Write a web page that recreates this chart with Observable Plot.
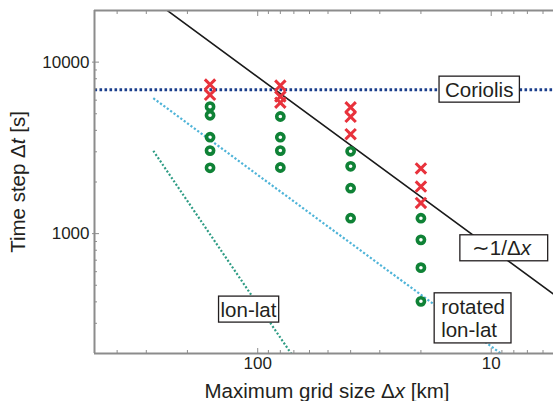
<!DOCTYPE html>
<html><head><meta charset="utf-8">
<script src="https://cdn.jsdelivr.net/npm/d3@7"></script>
<script src="https://cdn.jsdelivr.net/npm/@observablehq/plot@0.6"></script>
<style>html,body{margin:0;padding:0;background:#fff;overflow:hidden}svg{display:block}</style>
</head><body><div id="chart"></div>
<script>
// ---- data (Δx in km, Δt in s) ----
const crossDx = [160, 160, 80, 80, 80, 40, 40, 40, 20, 20, 20];
const crossDt = [7400, 6450, 7300, 6300, 5800, 5450, 4800, 3800, 2400, 1880, 1510];
const circleDx = [160, 160, 160, 160, 160, 80, 80, 80, 80, 40, 40, 40, 40, 20, 20, 20, 20];
const circleDt = [5500, 4900, 3650, 3050, 2420, 4820, 3650, 3050, 2430, 3020, 2470, 1840, 1230, 1230, 920, 633, 403];
const coriolisDx = [500, 5];
const coriolisDt = [6900, 6900];
const invDx = [500, 5];          // ~1/Δx reference line
const invDt = [41000, 410];
const rotatedDx = [280, 5];      // rotated lon-lat stability limit
const rotatedDt = [6160, 110];
const lonlatDx = [280, 60];      // lon-lat stability limit
const lonlatDt = [3040, 139];
const xMajor = [100, 10];
const xMinor = [500, 400, 300, 200, 90, 80, 70, 60, 50, 40, 30, 20, 9, 8, 7, 6];
const yMajor = [10000, 1000];
const yMinor = [9000, 8000, 7000, 6000, 5000, 4000, 3000, 2000, 900, 800, 700, 600, 500, 400, 300];
const labelText = ["Coriolis", "∼1/Δx", "lon-lat", "rotated\nlon-lat"];
const labelDx = [11.2, 9, 109, 16.3];
const labelDt = [6900, 820, 360, 320];
const xTitle = "Maximum grid size Δx [km]";
const yTitle = "Time step Δt [s]";

// ---- styles / layout ----
const font = '"Liberation Sans", Arial, Helvetica, sans-serif';
const ink = "#231f20";
const gray = "#8c8c8c";
const red = "#e8323c", green = "#0f8236";
const labelAlign = ["middle", "middle", "middle", "start"];
const labelPad = [[6, 6, 1.5], [12, 16, 1.5], [2, 2, 1.5], [7, 6, 2.3]];

const pts = (xs, ys) => xs.map((x, i) => ({dx: x, dt: ys[i]}));

const chart = Plot.plot({
  width: 553, height: 401,
  marginLeft: 94, marginRight: -8, marginTop: 10, marginBottom: 48,
  style: {fontFamily: font, fontSize: "17px", color: ink, background: "#fff", overflow: "hidden"},
  x: {type: "log", domain: [500, 5], axis: null},
  y: {type: "log", domain: [200, 20000], axis: null},
  marks: [
    Plot.line(pts(lonlatDx, lonlatDt), {x: "dx", y: "dt", stroke: "#2e9c84", strokeWidth: 2.2, strokeDasharray: "2 2", strokeLinecap: "butt", clip: true}),
    Plot.line(pts(rotatedDx, rotatedDt), {x: "dx", y: "dt", stroke: "#4fb4d8", strokeWidth: 2.2, strokeDasharray: "2.2 2", strokeLinecap: "butt", clip: true}),
    Plot.line(pts(invDx, invDt), {x: "dx", y: "dt", stroke: "#1a1a1a", strokeWidth: 1.6, clip: true}),
    Plot.line(pts(coriolisDx, coriolisDt), {x: "dx", y: "dt", stroke: "#1a3e8c", strokeWidth: 3, strokeDasharray: "2.6 2.4", strokeLinecap: "butt", clip: true}),
    Plot.dot(pts(circleDx, circleDt), {x: "dx", y: "dt", r: 3.6, stroke: green, strokeWidth: 3.6, fill: "none"}),
    Plot.dot(pts(crossDx, crossDt), {x: "dx", y: "dt", symbol: "times", r: 4.8, stroke: red, strokeWidth: 3}),
    Plot.ruleX([500], {stroke: gray, strokeWidth: 2}),
    Plot.ruleY([20000, 200], {stroke: gray, strokeWidth: 2}),
    Plot.axisY(yMajor, {anchor: "left", tickSize: 0, tickPadding: 5, fontSize: 17, tickFormat: d => String(d), label: null}),
    Plot.axisY(yMajor, {anchor: "left", tickSize: 7, dx: 5, fill: "none", stroke: gray}),
    Plot.axisY(yMinor, {anchor: "left", tickSize: 3, dx: 3, fill: "none", stroke: gray}),
    Plot.axisX(xMajor, {anchor: "bottom", tickSize: 0, tickPadding: 3, fontSize: 17, tickFormat: d => String(d), label: null}),
    Plot.axisX(xMajor, {anchor: "bottom", tickSize: 6, dy: -5, fill: "none", stroke: gray}),
    Plot.axisX(xMinor, {anchor: "bottom", tickSize: 3, dy: -3, fill: "none", stroke: gray}),
    Plot.axisX(xMajor, {anchor: "top", tickSize: 6, dy: 5, fill: "none", stroke: gray}),
    Plot.axisX(xMinor, {anchor: "top", tickSize: 3, dy: 3, fill: "none", stroke: gray})
  ]
});
document.getElementById("chart").append(chart);

// ---- text with italic variable after Δ ----
function fillRich(sel, str) {
  const parts = str.split(/(Δ[xt])/);
  parts.forEach(p => {
    if (!p) return;
    if (/^Δ[xt]$/.test(p)) {
      sel.append("tspan").text("Δ");
      sel.append("tspan").attr("font-style", "italic").text(p[1]);
    } else sel.append("tspan").text(p);
  });
}

const sx = chart.scale("x"), sy = chart.scale("y");
const svg = d3.select(chart);
const g = svg.append("g").attr("font-family", font).attr("fill", ink).attr("font-size", 20.5);
labelText.forEach((txt, i) => {
  const cx = sx.apply(labelDx[i]), cy = sy.apply(labelDt[i]);
  const lines = txt.split("\n");
  const lh = 22.5;
  const grp = g.append("g");
  const rect = grp.append("rect");
  const t = grp.append("text").attr("text-anchor", labelAlign[i]);
  lines.forEach((ln, k) => {
    const l = t.append("tspan").attr("x", cx).attr("y", cy - (lines.length - 1) * lh / 2 + k * lh).attr("dy", "0.36em");
    fillRich(l, ln);
  });
  const bb = t.node().getBBox();
  const [pl, pr, pv] = labelPad[i];
  rect.attr("x", bb.x - pl).attr("y", bb.y - pv).attr("width", bb.width + pl + pr).attr("height", bb.height + 2 * pv)
    .attr("fill", "#fff").attr("stroke", ink).attr("stroke-width", 1.3);
});

const tg = svg.append("g").attr("font-family", font).attr("fill", ink).attr("font-size", 20.5);
fillRich(tg.append("text").attr("x", 327).attr("y", 398).attr("text-anchor", "middle"), xTitle);
fillRich(tg.append("text").attr("transform", "translate(25,182) rotate(-90)").attr("text-anchor", "middle"), yTitle);
</script>
</body></html>
